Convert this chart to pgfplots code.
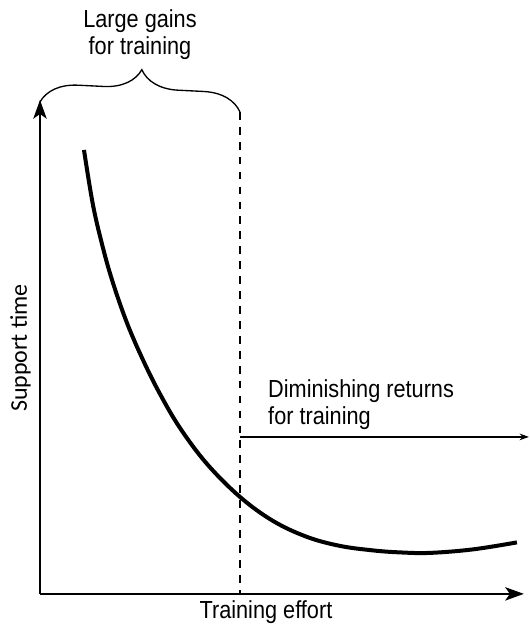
\documentclass[border=0pt]{standalone}
\usepackage{fontspec}
\setmainfont{Liberation Sans}[FakeStretch=0.88]
\newfontfamily\carlito{Carlito}
\usepackage{pgfplots}
\pgfplotsset{compat=1.18}
\usetikzlibrary{arrows.meta,decorations.pathreplacing}
\begin{document}
\begin{tikzpicture}
\begin{axis}[
  x=0.75pt, y=0.75pt,
  xmin=40, xmax=524, ymin=30, ymax=524,
  enlargelimits=false,
  axis lines=left,
  axis line style={line width=1.7pt, -{Stealth[length=14pt,width=10pt,inset=3.5pt]}},
  xtick=\empty, ytick=\empty,
  clip=false,
]
\path (axis cs:0,0) rectangle (axis cs:529,624);
% curve
\addplot[line width=3pt, smooth, tension=0.6] coordinates {
(84,474) (93,419) (103,376) (113,341) (127,301) (143,264) (160,230)
(180,196) (207,160) (240,127) (273,103) (307,87) (340,78) (373,73.5)
(400,71.5) (430,71) (473,74.5) (517,81.5)
};
% dashed boundary
\addplot[line width=2.1pt, dash pattern=on 5.8pt off 5.4pt] coordinates {(240,512) (240,30)};
% diminishing returns arrow
\addplot[line width=0.9pt, -{Stealth[length=7pt,width=5pt]}] coordinates {(240,187) (529,187)};
% brace
\draw[line width=1pt, decorate, decoration={brace, amplitude=28pt}] (axis cs:40,522) -- (axis cs:240,512);
% texts
\node[anchor=base, font=\fontsize{18.5}{22}\selectfont] at (axis cs:140,596) {Large gains};
\node[anchor=base, font=\fontsize{18.5}{22}\selectfont] at (axis cs:140,569) {for training};
\node[anchor=base west, inner sep=0pt, font=\fontsize{18.5}{22}\selectfont] at (axis cs:268,226) {Diminishing returns};
\node[anchor=base west, inner sep=0pt, font=\fontsize{18.5}{22}\selectfont] at (axis cs:268,199) {for training};
\node[anchor=base, inner sep=0pt, font=\fontsize{18.5}{22}\selectfont] at (axis cs:266,5) {Training effort};
\node[anchor=base, rotate=90, inner sep=0pt, font=\carlito\fontsize{18}{22}\selectfont] at (axis cs:27,276) {Support time};
\end{axis}
\end{tikzpicture}
\end{document}
